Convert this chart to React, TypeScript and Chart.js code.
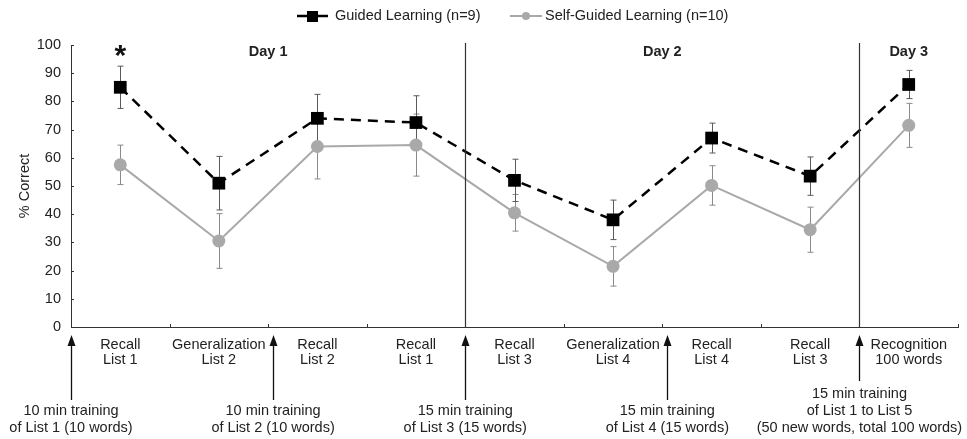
import React, { useEffect, useRef } from "react";
import { Chart, registerables } from "chart.js";

Chart.register(...registerables);

const categories: string[][] = [
  ["Recall", "List 1"],
  ["Generalization", "List 2"],
  ["Recall", "List 2"],
  ["Recall", "List 1"],
  ["Recall", "List 3"],
  ["Generalization", "List 4"],
  ["Recall", "List 4"],
  ["Recall", "List 3"],
  ["Recognition", "100 words"],
];

const guided = [85, 51, 74, 72.5, 52, 38, 67, 53.5, 86];
const guidedErr = [7.5, 9.5, 8.5, 9.5, 7.5, 7, 5.3, 6.8, 5];
const selfGuided = [57.5, 30.5, 64, 64.5, 40.5, 21.5, 50.2, 34.5, 71.5];
const selfGuidedErr = [7, 9.7, 11.5, 11, 6.5, 7, 7, 8, 7.8];

const yTicks = [0, 10, 20, 30, 40, 50, 60, 70, 80, 90, 100];

const dayLabels = ["Day 1", "Day 2", "Day 3"];
const trainingLabels: string[][] = [
  ["10 min training", "of List 1 (10 words)"],
  ["10 min training", "of List 2 (10 words)"],
  ["15 min training", "of List 3 (15 words)"],
  ["15 min training", "of List 4 (15 words)"],
  ["15 min training", "of List 1 to List 5", "(50 new words, total 100 words)"],
];

const FONT = "'Liberation Sans', Arial, Helvetica, sans-serif";
const BLACK = "#000000";
const GRAY = "#a9a9a9";
const TEXT = "#222222";
const FS = 14.5;

function boundary(chart: any, i: number): number {
  const x = chart.scales.x;
  const step = x.getPixelForValue(1) - x.getPixelForValue(0);
  return x.getPixelForValue(0) - step / 2 + i * step;
}

const annotPlugin = {
  id: "annot",
  beforeDatasetsDraw(chart: any) {
    const ctx = chart.ctx;
    const x = chart.scales.x;
    const y = chart.scales.y;
    const drawBars = (vals: number[], errs: number[], color: string) => {
      ctx.save();
      ctx.strokeStyle = color;
      ctx.lineWidth = 1;
      vals.forEach((v, i) => {
        const px = Math.round(x.getPixelForValue(i)) + 0.5;
        const top = y.getPixelForValue(v + errs[i]);
        const bot = y.getPixelForValue(v - errs[i]);
        ctx.beginPath();
        ctx.moveTo(px, top);
        ctx.lineTo(px, bot);
        ctx.moveTo(px - 3, top);
        ctx.lineTo(px + 3, top);
        ctx.moveTo(px - 3, bot);
        ctx.lineTo(px + 3, bot);
        ctx.stroke();
      });
      ctx.restore();
    };
    drawBars(selfGuided, selfGuidedErr, "#8a8a8a");
    drawBars(guided, guidedErr, "#5a5a5a");
  },
  afterDraw(chart: any) {
    const ctx = chart.ctx;
    const area = chart.chartArea;
    const y = chart.scales.y;
    const x = chart.scales.x;
    ctx.save();
    ctx.strokeStyle = "#333";
    ctx.lineWidth = 1;
    // inward y ticks
    yTicks.forEach((t) => {
      const py = Math.round(y.getPixelForValue(t)) + 0.5;
      ctx.beginPath();
      ctx.moveTo(area.left, py);
      ctx.lineTo(area.left + 3, py);
      ctx.stroke();
    });
    // inward x ticks at boundaries
    for (let i = 1; i <= categories.length; i++) {
      const px = Math.round(boundary(chart, i)) + 0.5;
      ctx.beginPath();
      ctx.moveTo(px, area.bottom);
      ctx.lineTo(px, area.bottom - 3);
      ctx.stroke();
    }
    // day separators
    ctx.lineWidth = 1.2;
    [4, 8].forEach((b) => {
      const px = Math.round(boundary(chart, b)) + 0.5;
      ctx.beginPath();
      ctx.moveTo(px, area.top - 2);
      ctx.lineTo(px, area.bottom);
      ctx.stroke();
    });
    // day labels
    ctx.fillStyle = TEXT;
    ctx.font = `bold ${FS}px ${FONT}`;
    ctx.textAlign = "center";
    ctx.textBaseline = "middle";
    const dayX = [boundary(chart, 2), boundary(chart, 6), x.getPixelForValue(8)];
    dayLabels.forEach((d, i) => ctx.fillText(d, dayX[i], 52));
    // asterisk
    ctx.font = `bold 30px ${FONT}`;
    ctx.fillStyle = "#111";
    ctx.fillText("*", x.getPixelForValue(0), 57);

    // arrows + training labels
    const arrowB = [0, 2, 4, 6, 8];
    const shift = [0, 5, 0, 5, 0];
    ctx.strokeStyle = "#111";
    ctx.fillStyle = "#111";
    arrowB.forEach((b, i) => {
      const px = Math.round(boundary(chart, b) + shift[i]) + 0.5;
      const tip = 335;
      const end = i === 4 ? 381 : 400;
      ctx.lineWidth = 1.3;
      ctx.beginPath();
      ctx.moveTo(px, tip + 6);
      ctx.lineTo(px, end);
      ctx.stroke();
      ctx.beginPath();
      ctx.moveTo(px, tip);
      ctx.lineTo(px - 4, tip + 11);
      ctx.lineTo(px + 4, tip + 11);
      ctx.closePath();
      ctx.fill();
    });
    ctx.font = `${FS}px ${FONT}`;
    ctx.fillStyle = TEXT;
    arrowB.forEach((b, i) => {
      const lines = trainingLabels[i];
      const px = boundary(chart, b) + shift[i];
      lines.forEach((ln, j) => {
        const py = 428 - (lines.length - 1 - j) * 17;
        ctx.fillText(ln, px, py);
      });
    });

    // legend
    const ly = 16;
    ctx.textAlign = "left";
    ctx.strokeStyle = BLACK;
    ctx.lineWidth = 2.5;
    ctx.beginPath();
    ctx.moveTo(297, ly);
    ctx.lineTo(328, ly);
    ctx.stroke();
    ctx.fillStyle = BLACK;
    ctx.fillRect(307, ly - 5, 11, 11);
    ctx.fillStyle = TEXT;
    ctx.fillText("Guided Learning (n=9)", 335, ly);
    ctx.strokeStyle = GRAY;
    ctx.lineWidth = 2;
    ctx.beginPath();
    ctx.moveTo(510, ly);
    ctx.lineTo(542, ly);
    ctx.stroke();
    ctx.fillStyle = GRAY;
    ctx.beginPath();
    ctx.arc(526, ly, 4, 0, Math.PI * 2);
    ctx.fill();
    ctx.fillStyle = TEXT;
    ctx.fillText("Self-Guided Learning (n=10)", 545, ly);
    ctx.restore();
  },
};

export default function App() {
  const ref = useRef<HTMLCanvasElement | null>(null);
  useEffect(() => {
    if (!ref.current) return;
    Chart.defaults.font.family = FONT;
    const chart = new Chart(ref.current, {
      type: "line",
      data: {
        labels: categories,
        datasets: [
          {
            label: "Guided Learning (n=9)",
            data: guided,
            borderColor: BLACK,
            backgroundColor: BLACK,
            borderWidth: 2.5,
            borderDash: [10, 7],
            pointStyle: "rect",
            pointRadius: 9,
            pointBorderWidth: 0,
            pointBackgroundColor: BLACK,
            tension: 0,
          },
          {
            label: "Self-Guided Learning (n=10)",
            data: selfGuided,
            borderColor: GRAY,
            backgroundColor: GRAY,
            borderWidth: 2,
            pointStyle: "circle",
            pointRadius: 6.5,
            pointBorderWidth: 0,
            pointBackgroundColor: GRAY,
            tension: 0,
          },
        ],
      },
      options: {
        animation: false,
        responsive: true,
        maintainAspectRatio: false,
        layout: { padding: { top: 45, right: 7, left: 0, bottom: 0 } },
        plugins: { legend: { display: false }, tooltip: { enabled: false } },
        scales: {
          x: {
            type: "category",
            offset: true,
            grid: { display: false },
            border: { display: true, color: "#333", width: 1 },
            ticks: {
              autoSkip: false,
              maxRotation: 0,
              padding: 3,
              color: TEXT,
              font: { size: FS, lineHeight: 1.0 },
            },
            afterFit: (s: any) => {
              s.height = 112;
            },
          },
          y: {
            min: 0,
            max: 100,
            ticks: {
              stepSize: 10,
              padding: 10,
              color: TEXT,
              font: { size: FS },
            },
            grid: { display: false, drawTicks: false },
            border: { display: true, color: "#333", width: 1 },
            title: {
              display: true,
              text: "% Correct",
              color: TEXT,
              font: { size: FS },
              padding: { top: 16, bottom: 0 },
            },
            afterFit: (s: any) => {
              s.width = 71;
            },
          },
        },
      },
      plugins: [annotPlugin],
    });
    return () => chart.destroy();
  }, []);
  return (
    <div style={{ position: "absolute", left: 0, top: 0, width: 967, height: 439, background: "#fff" }}>
      <canvas ref={ref} />
    </div>
  );
}
